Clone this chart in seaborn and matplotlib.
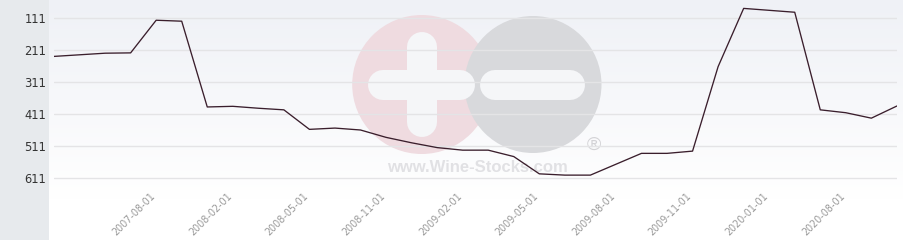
import numpy as np
import pandas as pd
import matplotlib
matplotlib.use("Agg")
import matplotlib.pyplot as plt
import matplotlib.transforms as mtrans
from matplotlib.lines import Line2D
from matplotlib.patches import Circle, Rectangle
import seaborn as sns

# ---- data (rank, lower is better) ----
rank = [231, 226, 221, 220, 118, 121, 389, 387, 393, 398, 459, 455, 461, 484,
        501, 516, 524, 524, 544, 598, 602, 602, 568, 534, 534, 527, 263, 81,
        87, 93, 398, 407, 424, 386]
tick_labels = ["2007-08-01", "2008-02-01", "2008-05-01", "2008-11-01", "2009-02-01",
               "2009-05-01", "2009-08-01", "2009-11-01", "2020-01-01", "2020-08-01"]
y_ticks = [111, 211, 311, 411, 511, 611]

df = pd.DataFrame({"idx": np.arange(len(rank)), "rank": rank})

sns.set_theme(style="white")
plt.rcParams["font.family"] = ["DejaVu Sans"]

W, H, DPI = 904, 240, 100
fig = plt.figure(figsize=(W / DPI, H / DPI), dpi=DPI, facecolor="white")

# background axes in pixel coordinates
bg = fig.add_axes([0, 0, 1, 1], zorder=0)
bg.axis("off")
grad = np.linspace(0, 1, 200)[:, None]
top = np.array([0xef, 0xf1, 0xf6]) / 255.0
bot = np.array([1.0, 1.0, 1.0])
img = top[None, None, :] * (1 - grad[:, :, None]) + bot[None, None, :] * grad[:, :, None]
bg.imshow(img, extent=[49, W, 200, 0], aspect="auto", interpolation="bilinear")
bg.add_patch(Rectangle((0, 0), 49, H, facecolor="#e7eaed", edgecolor="none"))
bg.set_xlim(0, W)
bg.set_ylim(H, 0)

# watermark logo
bg.add_patch(Circle((421.7, 84.5), 69.5, facecolor="#efdbe0", edgecolor="none"))
bg.add_patch(Circle((533, 84.5), 68.5, facecolor="#d8d9dc", edgecolor="none"))
bar_w = 30 * 72 / DPI
wm = "#f5f6f8"
bg.add_line(Line2D([421.7, 421.7], [47, 122], color=wm, lw=bar_w, solid_capstyle="round"))
bg.add_line(Line2D([383, 460], [85, 85], color=wm, lw=bar_w, solid_capstyle="round"))
bg.add_line(Line2D([495, 570], [85, 85], color=wm, lw=bar_w, solid_capstyle="round"))
bg.text(477, 167, "www.Wine-Stocks.com", fontsize=12, fontweight="bold",
        family="Liberation Sans", color="#e1e1e4", ha="center", va="center")
bg.text(594, 145, "\u00ae", fontsize=14, family="Liberation Sans",
        color="#d3d3d6", ha="center", va="center")

# main axes
x0, x1 = 54, 896.9
y_top, y_bot = 0, 192
ax = fig.add_axes([x0 / W, 1 - y_bot / H, (x1 - x0) / W, (y_bot - y_top) / H], zorder=1)
ax.set_facecolor("none")
sns.lineplot(data=df, x="idx", y="rank", ax=ax, color="#3a1e2c", linewidth=0.95)

px_per_rank = 32 / 100.0
ax.set_xlim(0, len(rank) - 1)
ax.set_ylim(111 + (y_bot - 18) / px_per_rank, 111 - 18 / px_per_rank)
ax.set_yticks(y_ticks)
ax.set_yticklabels([str(v) for v in y_ticks], fontsize=8.3, color="#333333")
ax.yaxis.grid(True, color="#e4e4e6", linewidth=1.0)
ax.xaxis.grid(False)
ax.tick_params(axis="y", length=0, pad=5.5)
ax.tick_params(axis="x", length=0, pad=2)

ax.set_xticks(np.arange(4, len(rank), 3)[: len(tick_labels)])
ax.set_xticklabels(tick_labels, rotation=45, ha="right", va="center",
                   rotation_mode="anchor", fontsize=6.9, color="#9a9a9a")
offset = mtrans.ScaledTranslation(-2.5 / DPI, 0, fig.dpi_scale_trans)
for lbl in ax.get_xticklabels():
    lbl.set_transform(lbl.get_transform() + offset)

ax.set_xlabel("")
ax.set_ylabel("")
for s in ax.spines.values():
    s.set_visible(False)

fig.savefig("out.png", dpi=DPI, facecolor="white")
